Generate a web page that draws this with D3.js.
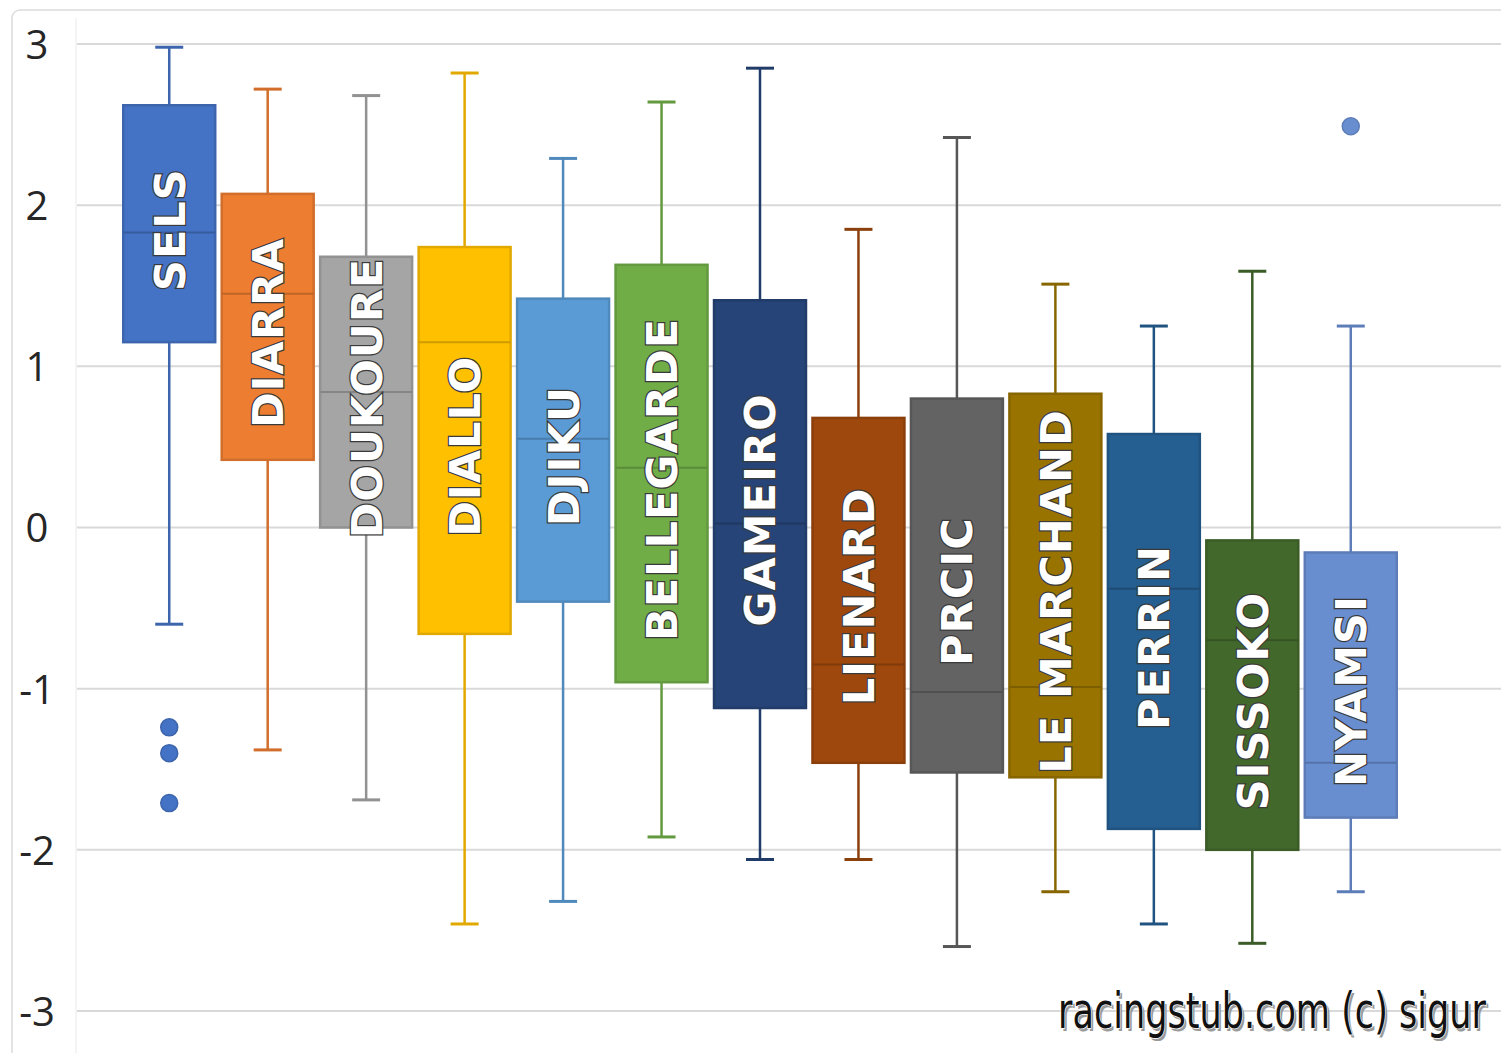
<!DOCTYPE html>
<html>
<head>
<meta charset="utf-8">
<script src="https://cdn.jsdelivr.net/npm/d3@7"></script>
<style>
  html, body { margin: 0; padding: 0; background: #fff; }
  svg { display: block; }
</style>
</head>
<body>
<div id="chart"></div>
<script>
// values
const players = ["SELS", "DIARRA", "DOUKOURE", "DIALLO", "DJIKU", "BELLEGARDE", "GAMEIRO",
  "LIENARD", "PRCIC", "LE MARCHAND", "PERRIN", "SISSOKO", "NYAMSI"];
const whiskerHigh = [2.98, 2.72, 2.68, 2.82, 2.29, 2.64, 2.85, 1.85, 2.42, 1.51, 1.25, 1.59, 1.25];
const q3 = [2.62, 2.07, 1.68, 1.74, 1.42, 1.63, 1.41, 0.68, 0.80, 0.83, 0.58, -0.08, -0.155];
const medians = [1.83, 1.45, 0.84, 1.15, 0.55, 0.37, 0.025, -0.85, -1.02, -0.99, -0.38, -0.70, -1.46];
const q1 = [1.15, 0.42, 0.0, -0.66, -0.46, -0.96, -1.12, -1.46, -1.52, -1.55, -1.87, -2.00, -1.80];
const whiskerLow = [-0.60, -1.38, -1.69, -2.46, -2.32, -1.92, -2.06, -2.06, -2.60, -2.26, -2.46, -2.58, -2.26];
const outliers = [[-1.24, -1.40, -1.71], [], [], [], [], [], [], [], [], [], [], [], [2.49]];
const colors = ["#4472C4", "#ED7D31", "#A5A5A5", "#FFC000", "#5B9BD5", "#70AD47", "#264478",
  "#9E480E", "#636363", "#997300", "#255E91", "#43682B", "#698ED0"];
const yTicks = [3, 2, 1, 0, -1, -2, -3];
const credit = "racingstub.com (c) sigur";

const width = 1501, height = 1053;

const svg = d3.select("#chart").append("svg")
  .attr("width", width)
  .attr("height", height);

// outer frame (its right and bottom sides fall outside the picture)
svg.append("rect")
  .attr("x", 12).attr("y", 10)
  .attr("width", 1520).attr("height", 1070)
  .attr("rx", 8)
  .style("fill", "#fff")
  .style("stroke", "#dcdcdc")
  .style("stroke-width", 1.5);

var x = d3.scaleBand()
  .domain(players)
  .range([120, 1400])
  .paddingInner(0.066)
  .paddingOuter(0.033);

var y = d3.scaleLinear().domain([-3, 3]).range([1011, 44]);

// faint left edge of plot
svg.append("line")
  .attr("x1", 76).attr("x2", 76)
  .attr("y1", 18).attr("y2", height)
  .style("stroke", "#f0f0f0")
  .style("stroke-width", 1.5);

svg.selectAll(".grid")
  .data(yTicks)
  .enter().append("line")
  .attr("class", "grid")
  .attr("x1", 77).attr("x2", width)
  .attr("y1", d => y(d)).attr("y2", d => y(d))
  .style("stroke", "#d9d9d9")
  .style("stroke-width", 2);

var yAxis = svg.append("g")
  .attr("transform", "translate(37,0)")
  .call(d3.axisLeft(y).tickValues(yTicks).tickSize(0).tickPadding(0).tickFormat(d => String(d)));
yAxis.select(".domain").remove();
yAxis.selectAll("text")
  .attr("x", 0)
  .attr("dy", "0.36em")
  .attr("text-anchor", "middle")
  .style("font-family", "'Open Sans', sans-serif")
  .style("font-size", "40px")
  .style("fill", "#262626");

var boxes = players.map(function(p, i) {
  return {
    name: p, hi: whiskerHigh[i], q3: q3[i], med: medians[i], q1: q1[i],
    lo: whiskerLow[i], out: outliers[i], color: colors[i]
  };
});

var capW = 28;

var g = svg.selectAll(".box")
  .data(boxes)
  .enter().append("g")
  .attr("class", "box");

function edge(d) { return d3.color(d.color).darker(0.35).formatHex(); }

// whiskers
g.append("line")
  .attr("x1", d => x(d.name) + x.bandwidth() / 2)
  .attr("x2", d => x(d.name) + x.bandwidth() / 2)
  .attr("y1", d => y(d.hi))
  .attr("y2", d => y(d.lo))
  .style("stroke", edge)
  .style("stroke-width", 2.5);

g.selectAll(".cap")
  .data(d => [d.hi, d.lo].map(v => ({ v: v, d: d })))
  .enter().append("line")
  .attr("class", "cap")
  .attr("x1", o => x(o.d.name) + x.bandwidth() / 2 - capW / 2)
  .attr("x2", o => x(o.d.name) + x.bandwidth() / 2 + capW / 2)
  .attr("y1", o => y(o.v))
  .attr("y2", o => y(o.v))
  .style("stroke", o => edge(o.d))
  .style("stroke-width", 3);

g.append("rect")
  .attr("x", d => x(d.name))
  .attr("y", d => y(d.q3))
  .attr("width", x.bandwidth())
  .attr("height", d => y(d.q1) - y(d.q3))
  .style("fill", d => d.color)
  .style("stroke", edge)
  .style("stroke-width", 2.5);

g.append("line")
  .attr("x1", d => x(d.name))
  .attr("x2", d => x(d.name) + x.bandwidth())
  .attr("y1", d => y(d.med))
  .attr("y2", d => y(d.med))
  .style("stroke", d => d3.color(d.color).darker(0.6).formatHex())
  .style("stroke-width", 2);

g.selectAll(".outlier")
  .data(d => d.out.map(v => ({ v: v, d: d })))
  .enter().append("circle")
  .attr("class", "outlier")
  .attr("cx", o => x(o.d.name) + x.bandwidth() / 2)
  .attr("cy", o => y(o.v))
  .attr("r", 8.5)
  .style("fill", o => o.d.color)
  .style("stroke", o => edge(o.d))
  .style("stroke-width", 1.5);

// names inside the boxes
g.append("text")
  .attr("transform", function(d) {
    var cx = x(d.name) + x.bandwidth() / 2;
    var cy = (y(d.q3) + y(d.q1)) / 2 + 6;
    return "translate(" + cx + "," + cy + ") rotate(-90)";
  })
  .attr("text-anchor", "middle")
  .attr("dy", "0.36em")
  .style("font-family", "'DejaVu Sans', Verdana, sans-serif")
  .style("font-weight", "bold")
  .style("font-size", "43px")
  .style("letter-spacing", "1px")
  .style("fill", "#fff")
  .style("stroke", "#3a3a3a")
  .style("stroke-width", 2.5)
  .style("paint-order", "stroke")
  .text(d => d.name);

// credit line, squeezed sideways to fit 428px
var creditG = svg.append("g");
var shadow = creditG.append("text")
  .attr("x", 3).attr("y", 3)
  .style("font-family", "'Liberation Sans Narrow', 'DejaVu Sans Condensed', sans-serif")
  .style("font-size", "50px")
  .style("fill", "#9a9a9a")
  .text(credit);
creditG.append("text")
  .attr("x", 0).attr("y", 0)
  .style("font-family", "'Liberation Sans Narrow', 'DejaVu Sans Condensed', sans-serif")
  .style("font-size", "50px")
  .style("fill", "#111")
  .style("stroke", "#fff")
  .style("stroke-width", 1.5)
  .style("paint-order", "stroke")
  .text(credit);
var natural = shadow.node().getComputedTextLength() || 428;
creditG.attr("transform", "translate(1058,1028) scale(" + (428 / natural) + ",1)");
</script>
</body>
</html>
